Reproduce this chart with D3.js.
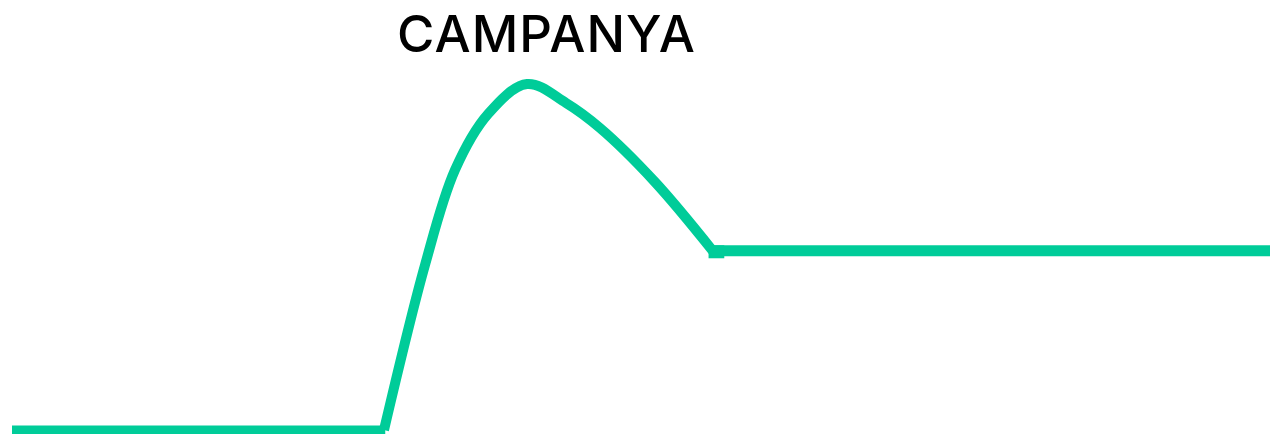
<!DOCTYPE html>
<html>
<head>
<meta charset="utf-8">
<script src="https://cdn.jsdelivr.net/npm/d3@7"></script>
<style>
  html, body { margin: 0; padding: 0; background: #ffffff; }
  svg { display: block; }
</style>
</head>
<body>
<svg id="chart" width="1270" height="434"></svg>
<script>
// ---- data ----
const titleText = "CAMPANYA";
// baseline before the campaign (time, level)
const beforeT = [0, 29.57];
const beforeV = [0, 0];
// campaign bump
const bumpT = [29.57, 32.83, 35.21, 37.84, 40.94, 44.04, 46.74, 51.11, 55.72];
const bumpV = [0, 47.69, 75.14, 91.33, 100, 94.51, 87.28, 71.68, 51.73];
// new plateau after the campaign
const afterT = [55.72, 100];
const afterV = [51.8, 51.8];

const W = 1270, H = 434;
const color = "#00CC99";
const svg = d3.select("#chart");

const x = d3.scaleLinear().domain([0, 100]).range([12, 1270]);
const y = d3.scaleLinear().domain([0, 100]).range([430, 84]);

const zip = (ts, vs) => ts.map((t, i) => ({ t, v: vs[i] }));

const flat = d3.line().x(d => x(d.t)).y(d => y(d.v)).curve(d3.curveLinear);
const smooth = d3.line().x(d => x(d.t)).y(d => y(d.v)).curve(d3.curveCatmullRom.alpha(0.5));

svg.append("path")
  .attr("d", flat(zip(beforeT, beforeV)))
  .attr("fill", "none").attr("stroke", color).attr("stroke-width", 9)
  .attr("stroke-linecap", "butt");

svg.append("path")
  .attr("d", smooth(zip(bumpT, bumpV)))
  .attr("fill", "none").attr("stroke", color).attr("stroke-width", 10)
  .attr("stroke-linecap", "butt").attr("stroke-linejoin", "round");

svg.append("path")
  .attr("d", flat(zip(afterT, afterV)))
  .attr("fill", "none").attr("stroke", color).attr("stroke-width", 11)
  .attr("stroke-linecap", "butt");

// corner joints
svg.append("path")
  .attr("d", flat([{t: beforeT[1] - 0.3, v: 0}, {t: beforeT[1] + 0.1, v: 0}]))
  .attr("fill", "none").attr("stroke", color).attr("stroke-width", 9);
svg.append("path")
  .attr("d", flat([{t: afterT[0] - 0.35, v: afterV[0]}, {t: afterT[0] + 0.9, v: afterV[0]}]))
  .attr("fill", "none").attr("stroke", color).attr("stroke-width", 13)
  .attr("transform", "translate(0,1)");

svg.append("text")
  .attr("x", 546).attr("y", 52)
  .attr("text-anchor", "middle")
  .attr("font-family", "Inter, 'Noto Sans', sans-serif")
  .attr("font-weight", 500)
  .attr("font-size", 51)
  .attr("fill", "#000000")
  .attr("textLength", 298)
  .attr("lengthAdjust", "spacing")
  .text(titleText);
</script>
</body>
</html>
